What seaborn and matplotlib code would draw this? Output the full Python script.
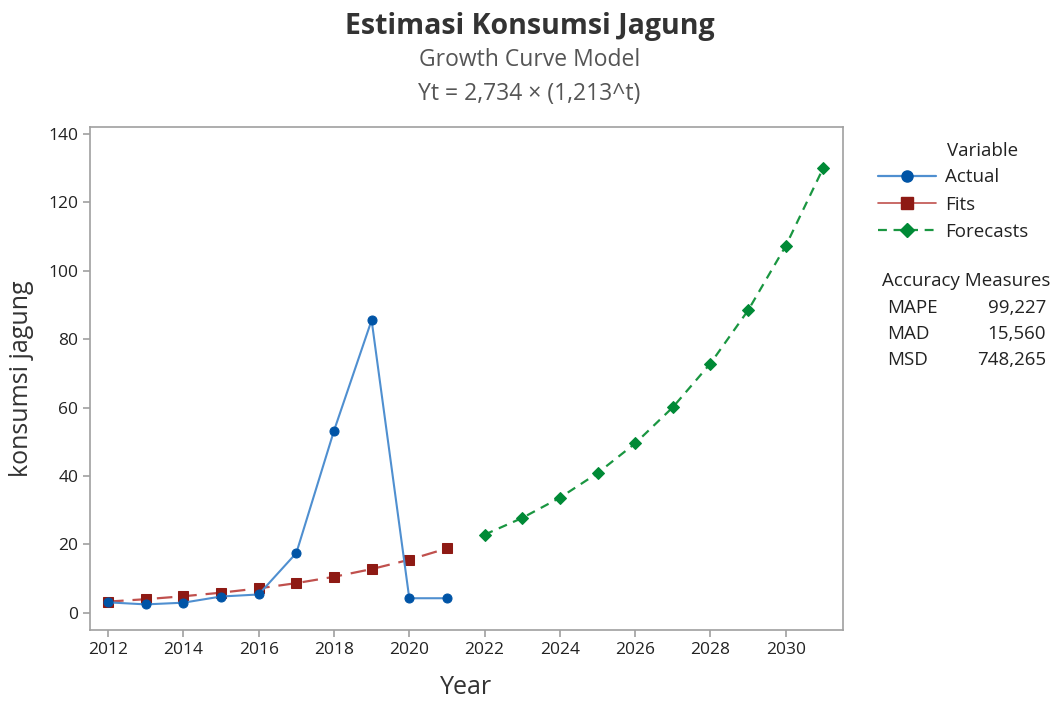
import matplotlib
matplotlib.use("Agg")
import matplotlib.pyplot as plt
import seaborn as sns
import pandas as pd
from matplotlib.lines import Line2D

# data
years_actual = [2012, 2013, 2014, 2015, 2016, 2017, 2018, 2019, 2020, 2021]
actual = [3.1, 2.5, 3.0, 4.8, 5.4, 17.5, 53.2, 85.5, 4.3, 4.3]
fits = [3.32, 4.02, 4.88, 5.92, 7.18, 8.71, 10.56, 12.81, 15.54, 18.85]
years_fc = [2022, 2023, 2024, 2025, 2026, 2027, 2028, 2029, 2030, 2031]
forecasts = [22.87, 27.74, 33.65, 40.82, 49.51, 60.06, 72.85, 88.37, 107.19, 130.02]
xticks = list(range(2012, 2031, 2))
yticks = list(range(0, 141, 20))
measures = ["MAPE", "MAD", "MSD"]
measure_vals = ["99,227", "15,560", "748,265"]

sns.set_style("ticks")
plt.rcParams["font.family"] = ["Open Sans", "DejaVu Sans"]

df_act = pd.DataFrame({"Year": years_actual, "val": actual})
df_fit = pd.DataFrame({"Year": years_actual, "val": fits})
df_fc = pd.DataFrame({"Year": years_fc, "val": forecasts})

fig = plt.figure(figsize=(10.59, 7.04), dpi=100)
ax = fig.add_axes([0.085, 0.105, 0.711, 0.715])

c_act_line, c_act_mk = "#4F8FD0", "#0054A6"
c_fit_line, c_fit_mk = "#C0504D", "#8E1A14"
c_fc = "#1A9641"
c_fc_mk = "#008A36"

sns.lineplot(data=df_act, x="Year", y="val", ax=ax, color=c_act_line, lw=1.5,
             marker="o", markersize=6.5, markerfacecolor=c_act_mk,
             markeredgecolor=c_act_mk, zorder=3)
sns.lineplot(data=df_fit, x="Year", y="val", ax=ax, color=c_fit_line, lw=1.6,
             linestyle=(0, (7, 4)), marker="s", markersize=6.5,
             markerfacecolor=c_fit_mk, markeredgecolor=c_fit_mk, zorder=2)
sns.lineplot(data=df_fc, x="Year", y="val", ax=ax, color=c_fc, lw=1.6,
             linestyle=(0, (4, 3)), marker="D", markersize=6,
             markerfacecolor=c_fc_mk, markeredgecolor=c_fc_mk, zorder=2)

ax.set_xlim(2011.52, 2031.52)
ax.set_ylim(-5, 142)
ax.set_xticks(xticks)
ax.set_yticks(yticks)
for s in ax.spines.values():
    s.set_color("#A0A0A0")
    s.set_linewidth(1.2)
ax.tick_params(colors="#A0A0A0", labelcolor="#222222", labelsize=12.5,
               length=5, width=1.2)
ax.set_xlabel("Year", fontsize=18, color="#333333", labelpad=12)
ax.set_ylabel("konsumsi jagung", fontsize=18, color="#333333", labelpad=10)

fig.text(0.5, 0.963, "Estimasi Konsumsi Jagung", ha="center", va="center",
         fontsize=20.5, fontweight="bold", color="#333333")
fig.text(0.5, 0.915, "Growth Curve Model", ha="center", va="center",
         fontsize=16.5, color="#555555")
fig.text(0.5, 0.867, "Yt = 2,734 \u00d7 (1,213^t)", ha="center", va="center",
         fontsize=16.5, color="#555555")

fs = 13.5
handles = [
    Line2D([], [], color=c_act_line, lw=1.6, marker="o", markersize=8,
           markerfacecolor=c_act_mk, markeredgecolor=c_act_mk),
    Line2D([], [], color=c_fit_line, lw=1.2, marker="s", markersize=8,
           markerfacecolor=c_fit_mk, markeredgecolor=c_fit_mk),
    Line2D([], [], color=c_fc, lw=1.6, linestyle=(0, (4, 3)), marker="D",
           markersize=7, markerfacecolor=c_fc_mk, markeredgecolor=c_fc_mk),
]
fig.text(0.894, 0.785, "Variable", fontsize=fs, color="#222222", va="center")
leg = fig.legend(handles, ["Actual", "Fits", "Forecasts"],
                 loc="upper left", bbox_to_anchor=(0.829, 0.761),
                 frameon=False, fontsize=fs, borderpad=0,
                 handlelength=3.1, handletextpad=0.5, labelspacing=0.5,
                 borderaxespad=0)
for t in leg.get_texts():
    t.set_color("#222222")

fig.text(0.833, 0.601, "Accuracy Measures", fontsize=fs, color="#222222",
         va="center")
for i, (m, v) in enumerate(zip(measures, measure_vals)):
    y = 0.563 - i * 0.0375
    fig.text(0.838, y, m, fontsize=fs, color="#222222", va="center")
    fig.text(0.988, y, v, fontsize=fs, color="#222222", va="center",
             ha="right")

fig.savefig("out.png", dpi=100)
